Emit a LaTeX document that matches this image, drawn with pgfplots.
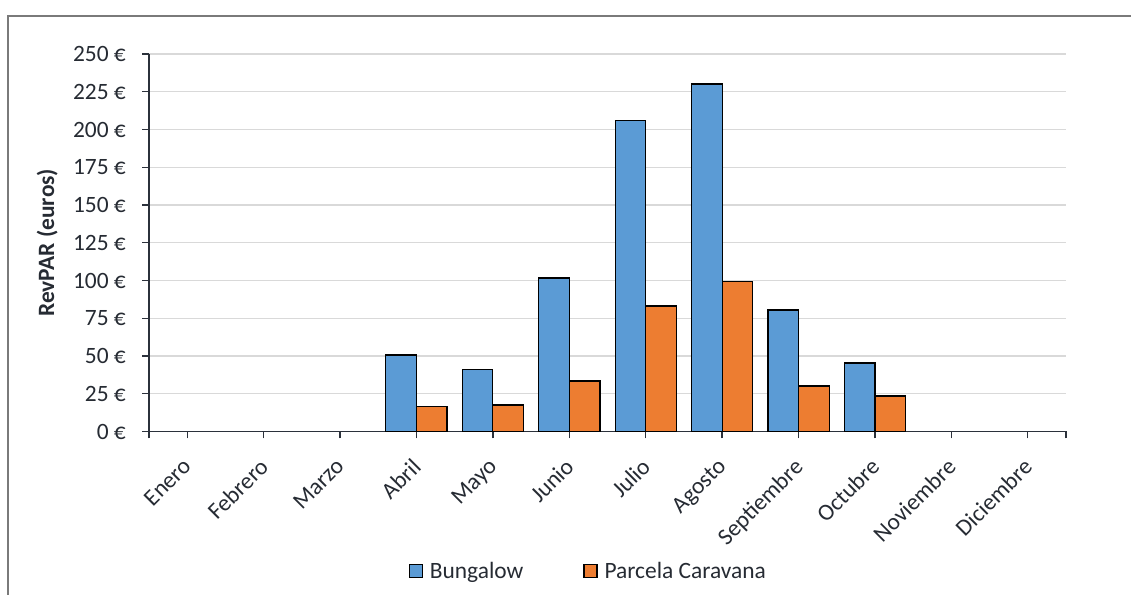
\documentclass[border=0pt]{standalone}
\usepackage{fontspec}
\setmainfont{Carlito}
\usepackage{pgfplots}
\pgfplotsset{compat=1.18}
\definecolor{cblue}{HTML}{5B9BD5}
\definecolor{corange}{HTML}{ED7D31}
\definecolor{cgrid}{HTML}{D9D9D9}
\definecolor{caxis}{HTML}{2B313B}
\definecolor{ctext}{HTML}{262B33}
\definecolor{cborder}{HTML}{7A7A7A}
\begin{document}
\begin{tikzpicture}[x=1bp,y=1bp]
\useasboundingbox (0,0) rectangle (1131,595);
\draw[cborder, line width=1.2bp] (8,0) -- (8,579) -- (1131,579);
\begin{axis}[
  at={(149bp,163.5bp)}, anchor=south west,
  scale only axis, width=917bp, height=377.5bp,
  font=\fontsize{23.5}{27}\selectfont, 
  every tick label/.append style={text=ctext},
  ybar=0pt, bar width=30.6bp,
  xmin=-0.5, xmax=11.5, ymin=0, ymax=250,
  axis x line*=bottom, axis y line*=left,
  axis line style={caxis, line width=1.3bp, -},
  tick style={caxis, line width=1.3bp},
  major tick length=7bp, tick align=outside,
  xtick={0,...,11},
  xticklabels={Enero,Febrero,Marzo,Abril,Mayo,Junio,Julio,Agosto,Septiembre,Octubre,Noviembre,Diciembre},
  extra x ticks={-0.5,11.5}, extra x tick labels={},
  xticklabel style={rotate=45, anchor=north east, inner sep=1bp, yshift=-8bp, xshift=-16bp},
  ytick={0,25,...,250},
  yticklabels={0 €,25 €,50 €,75 €,100 €,125 €,150 €,175 €,200 €,225 €,250 €},
  yticklabel style={anchor=east, inner sep=0pt, xshift=-16bp},
  ymajorgrids, grid style={cgrid, line width=1.3bp},
  ylabel={\bfseries RevPAR (euros)},
  ylabel style={at={(axis description cs:-0.111,0.5)}, anchor=center, rotate=0, text=ctext},
  legend columns=2,
  legend style={at={(axis description cs:0.479,-0.370)}, anchor=center, draw=none, fill=none,
    font=\fontsize{23.5}{27}\selectfont, text=ctext,
    /tikz/every even column/.append style={column sep=58bp},
    /tikz/every odd column/.append style={column sep=5bp},
    nodes={inner sep=2bp}},
  legend image code/.code={\draw[#1, line width=1.2bp] (0bp,-6.5bp) rectangle (13bp,6.5bp);},
]
\addplot[fill=cblue, draw=black, line width=1.2bp] coordinates {
  (3,50.7) (4,41.3) (5,101.7) (6,205.8) (7,230.1) (8,80.5) (9,45.4)};
\addplot[fill=corange, draw=black, line width=1.2bp] coordinates {
  (3,16.8) (4,17.6) (5,33.5) (6,83.1) (7,99.1) (8,30.1) (9,23.5)};
\legend{Bungalow, Parcela Caravana}
\end{axis}
\end{tikzpicture}
\end{document}
